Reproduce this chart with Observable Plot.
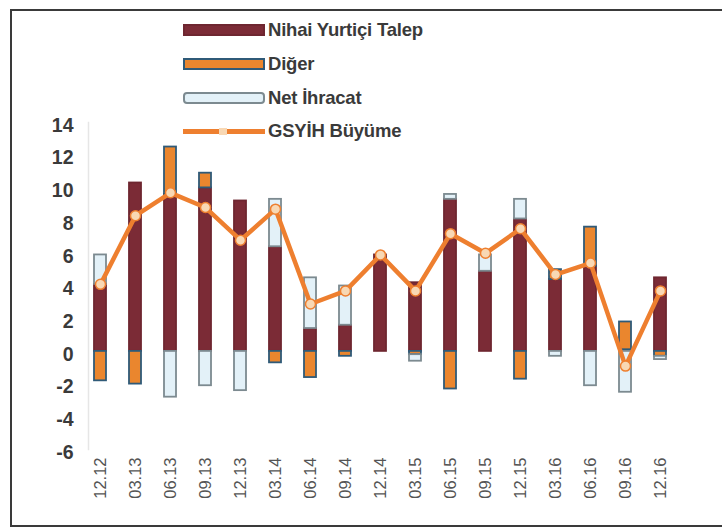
<!DOCTYPE html>
<html>
<head>
<meta charset="utf-8">
<script src="https://cdn.jsdelivr.net/npm/d3@7"></script>
<script src="https://cdn.jsdelivr.net/npm/@observablehq/plot@0.6"></script>
<style>
  html, body { margin: 0; padding: 0; background: #fff; }
  #wrap { position: relative; width: 722px; height: 530px; overflow: hidden; font-family: "Liberation Sans", Arial, sans-serif; }
  #frame { position: absolute; left: 10px; top: 9px; width: 740px; height: 518px; border: 2px solid #3a3a3a; box-sizing: border-box; }
  #chart { position: absolute; left: 0; top: 0; }
  #legend { position: absolute; left: 183px; top: 20px; }
  .row { position: absolute; left: 0; height: 20px; display: flex; align-items: center; white-space: nowrap; }
  .sw { width: 82px; height: 12px; box-sizing: border-box; margin-right: 3px; position: relative; }
  .lab { font-size: 18.5px; font-weight: bold; color: #3a3a3a; letter-spacing: -0.2px; }
</style>
</head>
<body>
<div id="wrap">
  <div id="frame"></div>
  <div id="chart"></div>
  <div id="legend"></div>
</div>
<script>
// ---- data ----
const quarters = ["12.12","03.13","06.13","09.13","12.13","03.14","06.14","09.14","12.14","03.15","06.15","09.15","12.15","03.16","06.16","09.16","12.16"];
const domestic  = [4.1, 10.3, 9.6, 10.0, 9.2, 6.4, 1.4, 1.6, 5.9, 4.2, 9.3, 4.9, 8.1, 4.4, 5.2, 0.1, 4.5];
const other     = [-1.8, -2.0, 2.9, 0.9, 0, -0.7, -1.6, -0.3, 0, -0.2, -2.3, 0, -1.7, 0.6, 2.4, 1.7, -0.3];
const netExport = [1.8, 0, -2.8, -2.1, -2.4, 2.9, 3.1, 2.4, 0, -0.4, 0.3, 1.0, 1.2, -0.3, -2.1, -2.5, -0.2];
const gdpGrowth = [4.1, 8.3, 9.7, 8.8, 6.8, 8.7, 2.9, 3.7, 5.9, 3.7, 7.2, 6.0, 7.5, 4.7, 5.4, -0.9, 3.7];
const seriesNames = ["Nihai Yurtiçi Talep", "Diğer", "Net İhracat", "GSYİH Büyüme"];
const yTicks = [14, 12, 10, 8, 6, 4, 2, 0, -2, -4, -6];

// ---- styles ----
const fills   = ["#7b2b36", "#ea862e", "#e3f1f8"];
const strokes = ["#6e2630", "#2f5a78", "#7c8a90"];
const lineColor = "#ee7f2f";

// ---- build table ----
const seriesValues = [domestic, other, netExport];
const rows = [];
quarters.forEach((q, i) => {
  seriesValues.forEach((vals, s) => {
    if (vals[i] !== 0) rows.push({q, series: seriesNames[s], strokeKey: "s:" + seriesNames[s], value: vals[i]});
  });
});
const gdpRows = quarters.map((q, i) => ({q, v: gdpGrowth[i]}));

const chart = Plot.plot({
  width: 722,
  height: 530,
  marginLeft: 88,
  marginRight: 50,
  marginTop: 122,
  marginBottom: 81,
  style: {background: "transparent", fontFamily: "Liberation Sans, Arial, sans-serif"},
  x: {domain: quarters, paddingInner: 0.65, paddingOuter: 0.08, label: null},
  y: {domain: [-6, 14], label: null},
  color: {
    type: "ordinal",
    domain: [...seriesNames.slice(0, 3), ...seriesNames.slice(0, 3).map(s => "s:" + s)],
    range: [...fills, ...strokes]
  },
  marks: [
    Plot.frame({anchor: "left", stroke: "#e6e6e6", strokeWidth: 1.5}),
    Plot.axisY({ticks: yTicks, tickSize: 0, tickPadding: 15, fontSize: 19.5, fontWeight: "bold", fill: "#3a3a3a", dy: 3, tickFormat: d => d < 0 ? "-" + Math.abs(d) : String(d)}),
    Plot.axisX({tickSize: 0, tickPadding: 8, tickRotate: -90, fontSize: 16.5, fill: "#555", fontWeight: "normal"}),
    Plot.barY(rows, {x: "q", y: "value", z: "series", fill: "series", stroke: "strokeKey", strokeWidth: 1.8}),
    Plot.line(gdpRows, {x: "q", y: "v", stroke: lineColor, strokeWidth: 4.5, strokeLinejoin: "round"}),
    Plot.dot(gdpRows, {x: "q", y: "v", r: 5, fill: "#f8d8b4", stroke: lineColor, strokeWidth: 1.5})
  ]
});
document.getElementById("chart").appendChild(chart);

// ---- legend ----
const legend = document.getElementById("legend");
const rowTops = [0, 34, 68, 101];
seriesNames.forEach((name, i) => {
  const row = document.createElement("div");
  row.className = "row";
  row.style.top = rowTops[i] + "px";
  const sw = document.createElement("div");
  sw.className = "sw";
  if (i < 3) {
    sw.style.background = fills[i];
    sw.style.border = "2px solid " + strokes[i];
    if (i === 2) sw.style.borderRadius = "4px";
  } else {
    sw.style.height = "5px";
    sw.style.background = lineColor;
    const m = document.createElement("div");
    m.style.cssText = "position:absolute;left:36px;top:-1px;width:8px;height:7px;background:#f8d8b4;";
    sw.appendChild(m);
  }
  const lab = document.createElement("span");
  lab.className = "lab";
  lab.textContent = name;
  row.appendChild(sw);
  row.appendChild(lab);
  legend.appendChild(row);
});
</script>
</body>
</html>
